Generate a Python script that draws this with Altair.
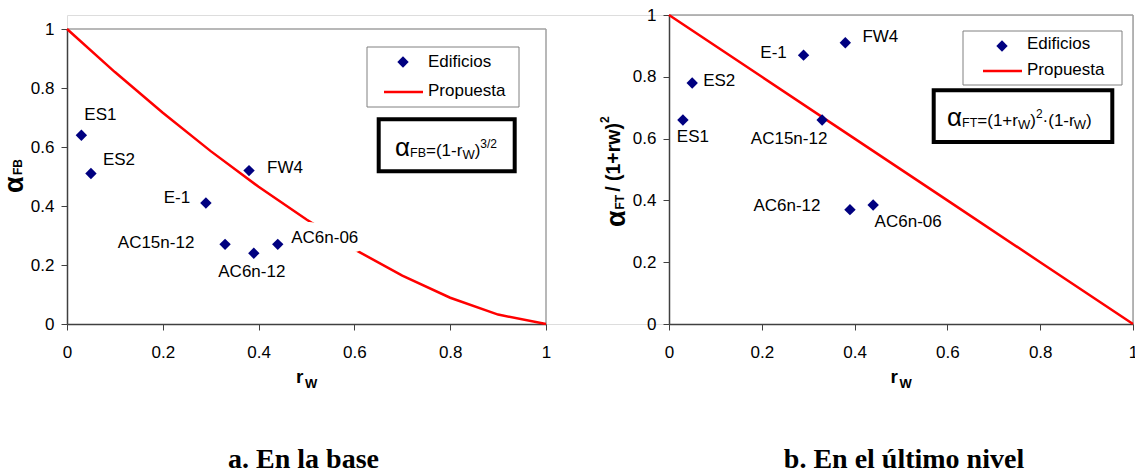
import altair as alt
import pandas as pd

# ---------------- data ----------------
edificios = ["ES1", "ES2", "E-1", "FW4", "AC15n-12", "AC6n-12", "AC6n-06"]
rw_base = [0.03, 0.05, 0.29, 0.38, 0.33, 0.39, 0.44]
alpha_fb = [0.64, 0.51, 0.41, 0.52, 0.27, 0.24, 0.27]
rw_top = [0.03, 0.05, 0.29, 0.38, 0.33, 0.39, 0.44]
alpha_ft_norm = [0.66, 0.78, 0.87, 0.91, 0.66, 0.37, 0.385]

prop_rw_base = [0.0, 0.1, 0.2, 0.3, 0.4, 0.5, 0.6, 0.7, 0.8, 0.9, 1.0]
prop_fb = [1.0, 0.854, 0.716, 0.586, 0.465, 0.354, 0.253, 0.164, 0.089, 0.032, 0.0]
prop_rw_top = [0.0, 0.2, 0.4, 0.6, 0.8, 1.0]
prop_ft = [1.0, 0.8, 0.6, 0.4, 0.2, 0.0]

tick_values = [0, 0.2, 0.4, 0.6, 0.8, 1]
legend_labels = ["Edificios", "Propuesta"]
captions = ["a. En la base", "b. En el último nivel"]

# ---------------- styling / placement (not data) ----------------
FONT = "Liberation Sans"
SERIF = "Liberation Serif"
NAVY = "#000080"
RED = "#FF0000"
W_ALL, H_ALL = 1066, 309

LABEL_OFF_A = {"ES1": (19, -20), "ES2": (28, -14), "E-1": (-29, -5), "FW4": (36, -3),
               "AC15n-12": (-69, -1), "AC6n-12": (-2, 19), "AC6n-06": (47, -6)}
LABEL_OFF_B = {"ES1": (10, 17), "ES2": (27, -2), "E-1": (-30, -2), "FW4": (35, -6),
               "AC15n-12": (-33, 19), "AC6n-12": (-63, -4), "AC6n-06": (35, 17)}

REG = {" ": .278, "(": .333, ")": .333, "+": .584, "-": .333, "/": .278, "=": .584,
       "\u00b7": .278, "B": .667, "F": .611, "T": .611, "W": .944, "r": .333, "w": .722,
       "\u03b1": .579}
BOLD = {" ": .278, "(": .333, ")": .333, "+": .584, "-": .333, "/": .278, "=": .584,
        "B": .722, "F": .611, "T": .611, "W": .944, "r": .389, "w": .778, "\u03b1": .61}


def text_w(s, size, bold=False):
    tab = BOLD if bold else REG
    return sum(tab.get(c, 0.556) for c in s) * size


one = pd.DataFrame({"k": [0]})


def txt(text, x, y, size, bold=False, angle=0, align="left", font=FONT, baseline="alphabetic"):
    kw = dict(text=text, font=font, fontSize=size, fontWeight="bold" if bold else "normal",
              align=align, baseline=baseline, color="black")
    if angle:
        kw["angle"] = angle
    return alt.Chart(one).mark_text(**kw).encode(x=alt.value(x), y=alt.value(y))


def run_h(pieces, x0, y0, bold=False):
    out, x = [], x0
    for t, size, shift in pieces:
        out.append(txt(t, x, y0 + shift, size, bold))
        x += text_w(t, size, bold)
    return out


def run_v(pieces, x0, y0):
    out, y = [], y0
    for t, size, shift, gap in pieces:
        y -= gap
        out.append(txt(t, x0 + shift, y, size, True, angle=270))
        y -= text_w(t, size, True)
    return out


def axis(pad, orient, offset=0):
    return alt.Axis(values=tick_values, format="~g", title=None, grid=False, orient=orient,
                    offset=offset, labelFlush=False, labelOverlap=False,
                    domainColor="#404040", domainWidth=1.5, tickColor="#404040",
                    tickSize=6, tickWidth=1, labelFont=FONT, labelFontSize=17,
                    labelColor="black", labelPadding=pad)


def panel(pts, prop, offs, ox, oy, w, h, legend, formula_box, formula, ytitle, caption, halo):
    # ox, oy: top-left of this panel's plot area inside the shared view
    x = alt.X("rw:Q", scale=alt.Scale(domain=[0, 1], range=[ox, ox + w], nice=False, zero=False),
              axis=axis(14, "bottom"))
    y = alt.Y("v:Q", scale=alt.Scale(domain=[0, 1], range=[oy + h, oy], nice=False, zero=False),
              axis=axis(7, "left", -ox))

    frame = pd.DataFrame({"rw": [0.0, 1.0], "rw2": [1.0, 1.0], "v": [1.0, 0.0], "v2": [1.0, 1.0]})
    layers = [alt.Chart(frame).mark_rule(color="#a0a0a0", strokeWidth=1.5).encode(
        x=x, x2="rw2:Q", y=y, y2="v2:Q")]
    layers.append(alt.Chart(prop).mark_line(color=RED, strokeWidth=2.5).encode(x=x, y=y))
    base = alt.Chart(pts)
    for n in halo:
        dx, dy = offs[n]
        layers.append(base.transform_filter(alt.datum.name == n).mark_text(
            dx=dx, dy=dy, font=FONT, fontSize=17, align="center", baseline="middle",
            color="white", stroke="white", strokeWidth=18, strokeJoin="round"
        ).encode(x=x, y=y, text="name:N"))
    layers.append(base.mark_point(shape="diamond", filled=True, size=130, color=NAVY,
                                  opacity=1).encode(x=x, y=y))
    for n in edificios:
        dx, dy = offs[n]
        layers.append(base.transform_filter(alt.datum.name == n).mark_text(
            dx=dx, dy=dy, font=FONT, fontSize=17, align="center", baseline="middle",
            color="black").encode(x=x, y=y, text="name:N"))

    # legend
    bx0, bx1, by0, by1, dxp, dyp, lx0, lx1, ly, tx, ty0, ty1 = legend
    layers.append(alt.Chart(one).mark_rect(fill="white", stroke="#808080", strokeWidth=1).encode(
        x=alt.value(ox + bx0), x2=alt.value(ox + bx1), y=alt.value(oy + by0), y2=alt.value(oy + by1)))
    layers.append(alt.Chart(one).mark_point(shape="diamond", filled=True, size=130, color=NAVY,
                                            opacity=1).encode(x=alt.value(ox + dxp), y=alt.value(oy + dyp)))
    layers.append(alt.Chart(one).mark_rule(color=RED, strokeWidth=2.5).encode(
        x=alt.value(ox + lx0), x2=alt.value(ox + lx1), y=alt.value(oy + ly)))
    layers.append(txt(legend_labels[0], ox + tx, oy + ty0, 17))
    layers.append(txt(legend_labels[1], ox + tx, oy + ty1, 17))

    # formula box
    fx0, fx1, fy0, fy1 = formula_box
    layers.append(alt.Chart(one).mark_rect(fill="white", stroke="black", strokeWidth=4).encode(
        x=alt.value(ox + fx0), x2=alt.value(ox + fx1), y=alt.value(oy + fy0), y2=alt.value(oy + fy1)))
    fp, fx, fy = formula
    layers += run_h(fp, ox + fx, oy + fy)

    # y title (rotated), x title
    yp, yx, yy = ytitle
    layers += run_v(yp, ox + yx, oy + yy)
    layers.append(txt("r", ox + w / 2 - 10.5, oy + h + 59, 19, True))
    layers.append(txt("W", ox + w / 2 - 1.5, oy + h + 64, 13, True))

    # caption (absolute baseline kept inside the 474 px page)
    ctext, cdx = caption
    layers.append(txt(ctext, ox + w / 2 + cdx, 453, 28, True, align="center", font=SERIF))

    return alt.layer(*layers)


df_a = pd.DataFrame({"name": edificios, "rw": rw_base, "v": alpha_fb})
pr_a = pd.DataFrame({"rw": prop_rw_base, "v": prop_fb})
df_b = pd.DataFrame({"name": edificios, "rw": rw_top, "v": alpha_ft_norm})
pr_b = pd.DataFrame({"rw": prop_rw_top, "v": prop_ft})

A = "\u03b1"
left = panel(
    df_a, pr_a, LABEL_OFF_A, 0, 14, 479, 295,
    legend=(300, 452, 18, 78, 336, 33, 317, 356, 63, 361, 37.5, 66.5),
    formula_box=(311.7, 447.7, 90.3, 142.3),
    formula=([(A, 26, 0), ("FB", 12.5, 1), ("=(1-r", 17, 0), ("W", 13, 3), (")", 17, 0),
              ("3/2", 12, -8)], 328, 127),
    ytitle=([(A, 27, 0, 0), ("FB", 12, -1, 1.5)], -44, 164),
    caption=(captions[0], -3),
    halo=["AC6n-06"],
)
right = panel(
    df_b, pr_b, LABEL_OFF_B, 602, 0, 464, 309,
    legend=(294, 453, 16, 70, 333, 31, 314, 353, 56, 358, 34.3, 59.9),
    formula_box=(264.7, 443.3, 75.3, 127),
    formula=([(A, 26, 0), ("FT", 12.5, 1), ("=(1+r", 17, 0), ("W", 13, 3), (")", 17, 0),
              ("2", 12, -8), ("\u00b7(1-r", 17, 0), ("W", 13, 3), (")", 17, 0)], 278, 111),
    ytitle=([(A, 27, 0, 0), ("FT", 12, -1, 1), ("/ (1+rw)", 19.5, -5, 3), ("2", 12, -16, 0)],
            -44, 212),
    caption=(captions[1], 3),
    halo=[],
)

chart = alt.layer(left, right).resolve_scale(x="independent", y="independent").properties(
    width=W_ALL, height=H_ALL,
    padding={"left": 67, "top": 15, "right": 2, "bottom": 150},
    autosize=alt.AutoSizeParams(type="none"),
).configure_view(stroke=None).configure(font=FONT)

chart.save("out.html", embed_options={"renderer": "svg", "actions": False})
